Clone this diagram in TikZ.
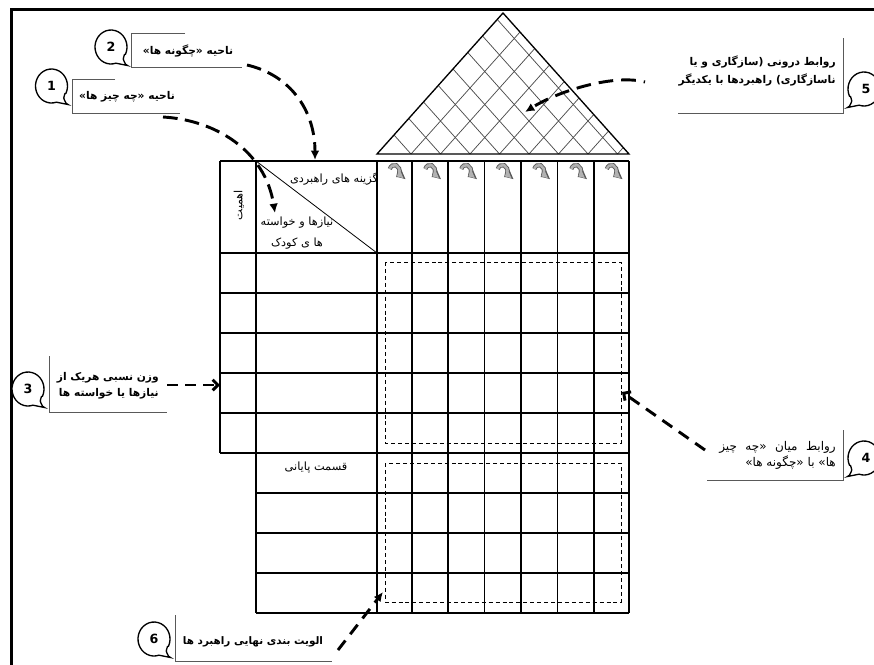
\documentclass[tikz,border=0pt]{standalone}
\usepackage{fontspec}
\setmainfont{DejaVu Sans}
\newfontfamily\fa[Script=Arabic]{DejaVu Sans}
\TeXXeTstate=1
\usetikzlibrary{arrows.meta}
\newcommand{\rl}[1]{\beginR #1\endR}
\newcommand{\wsp}{\hspace{3.5pt}}
\tikzset{
 tbl/.style={line width=1pt, draw=black},
 diagline/.style={line width=0.6pt},
 roofedge/.style={line width=1pt},
 rooflat/.style={line width=0.55pt, draw=black!70},
 dashbox/.style={line width=0.7pt, dash pattern=on 3pt off 2.2pt},
 bracket/.style={line width=0.75pt, draw=black!65},
 bub/.style={line width=1pt, fill=white},
 numtxt/.style={font=\fontsize{9.5}{11}\selectfont\bfseries, inner sep=0},
 calltxt/.style={font=\fa\fontsize{8}{12}\selectfont\bfseries, inner sep=0, align=right},
 calltxtn/.style={font=\fa\fontsize{9}{12}\selectfont, inner sep=0, align=right},
 celltxt/.style={font=\fa\fontsize{8.5}{15.5}\selectfont, inner sep=0, align=center},
 callarrow/.style={line width=2.2pt, dash pattern=on 11pt off 5.5pt, -{Latex[length=7pt,width=6.5pt]}},
 barbarrow/.style={line width=2.2pt, dash pattern=on 8pt off 5.5pt, -{Straight Barb[length=4pt,width=8pt]}},
 bubble/.pic={\begin{scope}[yscale=-1]
   \draw[bub] (-72:16 and 17) arc[start angle=-72, end angle=-385, x radius=16, y radius=17]
     to[out=-130,in=90] (12,-12.5) to[out=-90,in=175] (16.5,-18.5) -- cycle;
   \end{scope}},
 hdrarrow/.pic={\begin{scope}[yscale=-1]
   \draw[line width=3.2pt, black!65, -{Triangle[length=5.6pt,width=8.6pt]}] (160:5 and 6) arc[start angle=160, end angle=-70, x radius=5, y radius=6];
   \draw[line width=1.9pt, black!30, shorten >=0.6pt, -{Triangle[length=3.9pt,width=6.2pt]}] (160:5 and 6) arc[start angle=160, end angle=-70, x radius=5, y radius=6];
   \end{scope}}
}
\begin{document}
\begin{tikzpicture}[x=0.75pt,y=-0.75pt]
\useasboundingbox (0,0) rectangle (874,664);
\fill[white] (0,0) rectangle (874,664);
% frame
\draw[line width=2.5pt] (11.5,700) -- (11.5,9.5) -- (900,9.5);

% roof
\begin{scope}
\clip (377,154) -- (503,13) -- (629,154) -- cycle;
\foreach \k in {0,...,7}{
 \draw[rooflat] ({411+29.5*\k},154) -- ++(252,-282);
 \draw[rooflat] ({411+29.5*\k},154) -- ++(-252,-282);
}
\end{scope}
\draw[roofedge] (377,154) -- (503,13) -- (629,154) -- cycle;

% table
\draw[tbl] (220,161) -- (629,161);
\foreach \y in {253,293,333,373,413,453} \draw[tbl] (220,\y) -- (629,\y);
\foreach \y in {493,533,573,613} \draw[tbl] (256,\y) -- (629,\y);
\draw[tbl] (220,161) -- (220,453);
\foreach \x in {256,377,412,448,484.5,521,557.5,594,629} \draw[tbl] (\x,161) -- (\x,613);
\draw[diagline] (256,161) -- (377,253);

% header arrows
\foreach \cx in {394.5,430,466,502.5,539,576,611.5} \pic at (\cx,171) {hdrarrow};

% dashed zones
\draw[dashbox] (385,262) rectangle (621,443);
\draw[dashbox] (385,463) rectangle (621,602);

% cell texts
\node[celltxt] (opts) at (334,179) {\rl{گزینه های راهبردی}};
\node[celltxt] (needs) at (297,233) {\rl{نیازها و خواسته}\\\rl{ها ی کودک}};
\node[celltxt, rotate=90] (imp) at (239,205) {\rl{اهمیت}};
\node[celltxt] (final) at (316,468) {\rl{قسمت پایانی}};

% callout 1
\pic at (51.5,86) {bubble};
\node[numtxt] (n1) at (51.5,86) {1};
\draw[bracket] (115,79) -- (72.7,79) -- (72.7,113) -- (180,113);
\node[calltxt] (t1) at (127,97) {\rl{ناحیه «چه چیز ها»}};
% callout 2
\pic at (111,47) {bubble};
\node[numtxt] (n2) at (111,47) {2};
\draw[bracket] (185,33) -- (131.7,33) -- (131.7,67) -- (242,67);
\node[calltxt] (t2) at (188,51) {\rl{ناحیه «چگونه ها»}};
% callout 3
\pic at (28,389) {bubble};
\node[numtxt] (n3) at (28,389) {3};
\draw[bracket] (49,356) -- (49,412) -- (167,412);
\node[calltxt, anchor=east] (t3) at (159,386) {\rl{وزن نسبی هریک از}\\\rl{نیازها یا خواسته ها}};
% callout 4
\pic[xscale=-1] at (864,458) {bubble};
\node[numtxt] (n4) at (866,458) {4};
\draw[bracket] (843,430) -- (843,480) -- (707,480);
\node[calltxtn, anchor=east] (t4) at (836,455) {\rl{روابط\wsp{} میان\wsp{} «چه\wsp{} چیز}\\\rl{ها» با «چگونه ها»}};
% callout 5
\pic[xscale=-1] at (864,89) {bubble};
\node[numtxt] (n5) at (866,89) {5};
\draw[bracket] (843,38) -- (843,113) -- (678,113);
\node[calltxt, anchor=east, font=\fa\fontsize{8}{13.5}\selectfont\bfseries] (t5) at (836,71) {\rl{روابط درونی (سازگاری و یا}\\\rl{ناسازگاری) راهبردها با یکدیگر}};
% callout 6
\pic at (154,639) {bubble};
\node[numtxt] (n6) at (154,639) {6};
\draw[bracket] (175,615) -- (175,661) -- (332,661);
\node[calltxt, font=\fa\fontsize{7.8}{12}\selectfont\bfseries] (t6) at (253,642) {\rl{الویت بندی نهایی راهبرد ها}};

% arrow end points
\coordinate (a1s) at (163,117); \coordinate (a1e) at (275,213);
\coordinate (a2s) at (247,65);  \coordinate (a2e) at (315,160);
\coordinate (a3s) at (167,385); \coordinate (a3e) at (220,385);
\coordinate (a4s) at (705,450); \coordinate (a4e) at (622,392);
\coordinate (a5s) at (645,82);  \coordinate (a5e) at (525,112);
\coordinate (a6s) at (338,650); \coordinate (a6e) at (383,592);

\draw[callarrow] (a1s) .. controls (215,120) and (265,150) .. (a1e);
\draw[callarrow] (a2s) .. controls (290,75) and (315,110) .. (a2e);
\draw[barbarrow] (a3s) -- (a3e);
\draw[barbarrow, dash pattern=on 9pt off 6pt] (a4s) -- (a4e);
\draw[callarrow, dash pattern=on 11pt off 6pt, dash phase=10pt] (a5s) .. controls (615,74) and (560,90) .. (a5e);
\draw[callarrow, dash pattern=on 9pt off 6pt] (a6s) -- (a6e);
\end{tikzpicture}
\end{document}
